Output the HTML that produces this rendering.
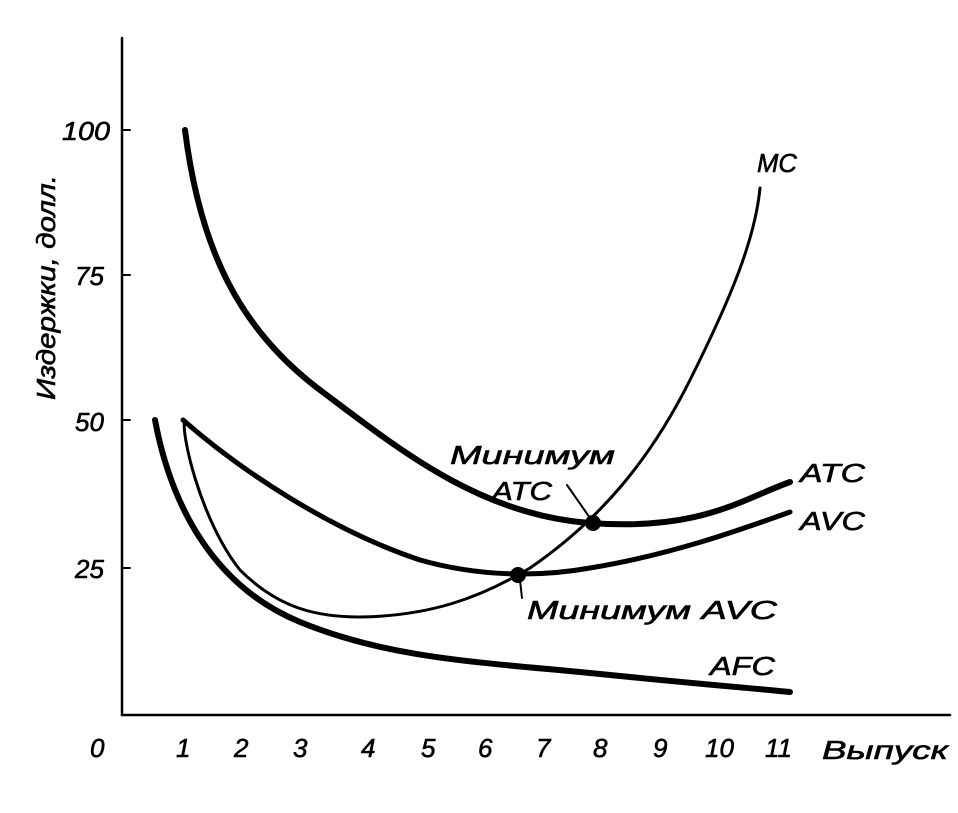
<!DOCTYPE html>
<html><head><meta charset="utf-8"><style>
body{margin:0;background:#fff}
svg text{font-family:"Liberation Sans","DejaVu Sans",sans-serif;font-style:italic;fill:#000;stroke:#000;stroke-width:0.6}
</style></head><body>
<svg width="958" height="808" viewBox="0 0 958 808" xmlns="http://www.w3.org/2000/svg">
<g stroke="#000" fill="none" stroke-linecap="round">
<line x1="122" y1="38" x2="122" y2="715" stroke-width="2.5"/>
<line x1="122" y1="715" x2="950" y2="715" stroke-width="2.5"/>
<g stroke-width="2"><line x1="122" y1="130" x2="130" y2="130"/><line x1="122" y1="275" x2="130" y2="275"/><line x1="122" y1="420" x2="130" y2="420"/><line x1="122" y1="568" x2="130" y2="568"/></g>
<path d="M185,130 C200,250 240,330 320,390 S480,515 590,523 S740,500 790,482" stroke-width="6"/>
<path d="M183,420 C240,470 330,530 420,560 C480,577 540,577 590,568 C670,555 740,530 790,512" stroke-width="5"/>
<path d="M185,420 C180,430 200,520 240,570 C280,610 320,617 360,617 C430,616 480,598 530,568 C600,520 650,460 690,380 C730,300 755,240 760,188" stroke-width="3"/>
<path d="M155,420 C170,500 210,585 300,622 S480,662 600,674 S750,688 790,692" stroke-width="6"/>
<line x1="567" y1="485" x2="590" y2="518" stroke-width="2"/>
<line x1="520" y1="580" x2="522" y2="598" stroke-width="2"/>
</g>
<circle cx="593" cy="523" r="8" fill="#000"/>
<circle cx="518" cy="575" r="8" fill="#000"/>
<g font-size="26">
<text x="62" y="140" textLength="48" lengthAdjust="spacingAndGlyphs">100</text><text x="75" y="285">75</text><text x="75" y="431">50</text><text x="75" y="578">25</text>
<text x="90" y="757">0</text><text x="176" y="757">1</text><text x="234" y="757">2</text><text x="293" y="757">3</text><text x="361" y="757">4</text><text x="421" y="757">5</text><text x="478" y="757">6</text><text x="536" y="757">7</text><text x="593" y="757">8</text><text x="653" y="757">9</text><text x="705" y="757">10</text><text x="765" y="757">11</text>
<text x="822" y="759" textLength="126" lengthAdjust="spacingAndGlyphs">Выпуск</text>
<text transform="translate(55,400) rotate(-90)" textLength="225" lengthAdjust="spacingAndGlyphs">Издержки, долл.</text>
<text x="757" y="172" textLength="40" lengthAdjust="spacingAndGlyphs">MC</text>
<text x="800" y="482" textLength="65" lengthAdjust="spacingAndGlyphs">ATC</text>
<text x="800" y="530" textLength="65" lengthAdjust="spacingAndGlyphs">AVC</text>
<text x="710" y="675" textLength="65" lengthAdjust="spacingAndGlyphs">AFC</text>
<text x="450" y="464" textLength="165" lengthAdjust="spacingAndGlyphs">Минимум</text>
<text x="492" y="500" textLength="60" lengthAdjust="spacingAndGlyphs">ATC</text>
<text x="527" y="619" textLength="250" lengthAdjust="spacingAndGlyphs">Минимум AVC</text>
</g>
</svg>
</body></html>
